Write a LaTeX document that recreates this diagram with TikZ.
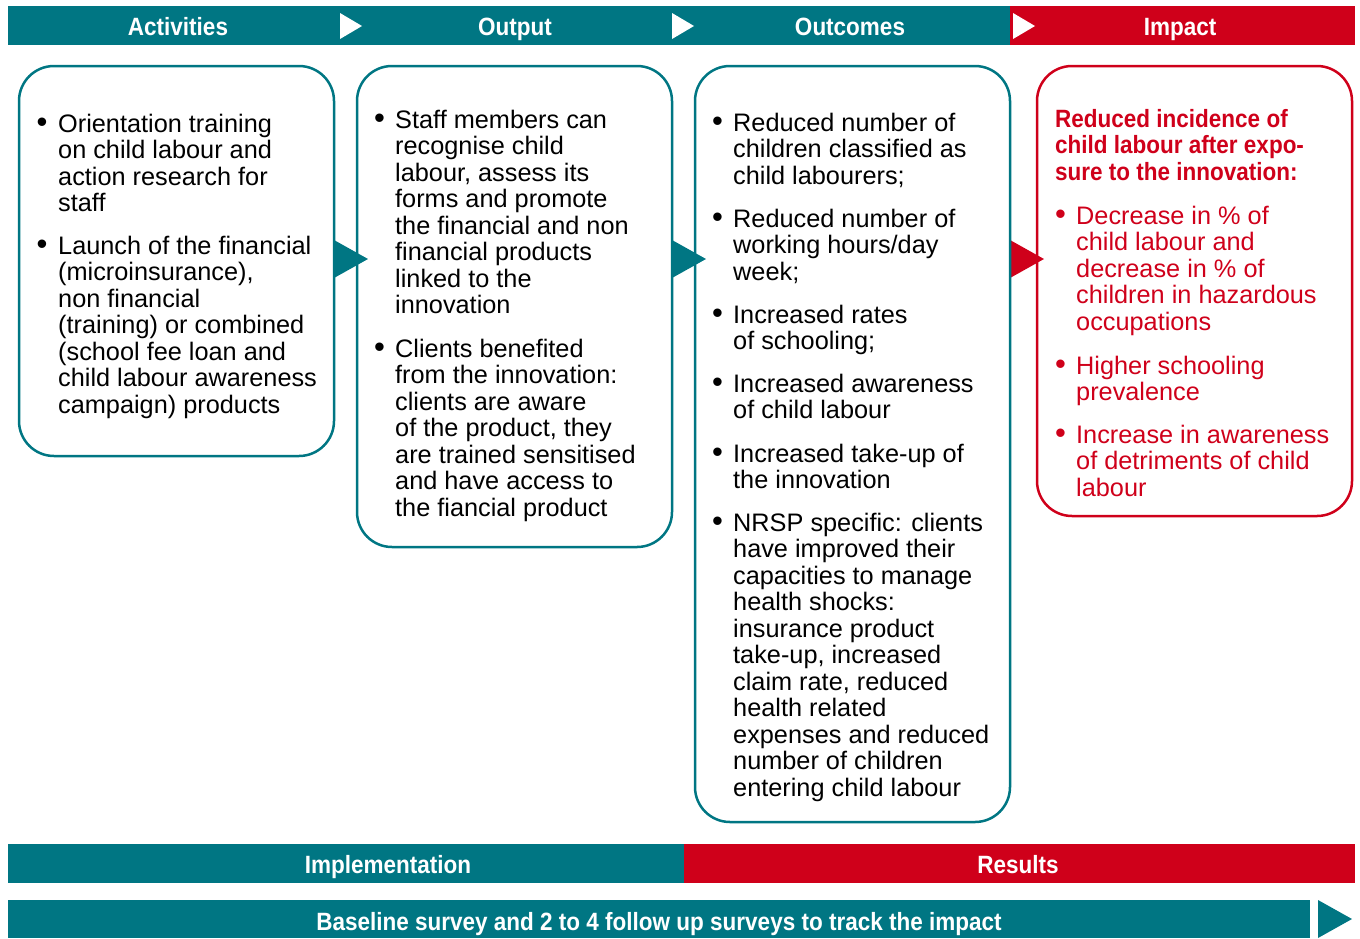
\documentclass[tikz,border=0pt]{standalone}
\usepackage{fontspec}
\setmainfont{Liberation Sans}
\newfontfamily\hdfont{Liberation Sans}[FakeStretch=0.9]
\definecolor{tealc}{RGB}{0,118,131}
\definecolor{redc}{RGB}{207,0,26}
\newcommand{\bodyfont}{\fontsize{25.3}{26.5}\selectfont}
\newcommand{\hdtext}{\hdfont\bfseries\fontsize{25}{27}\selectfont}
\newcommand{\blines}[1]{\parbox[t]{300pt}{\raggedright #1}}
\begin{document}
\begin{tikzpicture}[x=1pt,y=-1pt,
  bar/.style={fill=#1, draw=none, inner sep=0, outer sep=0, anchor=north west},
  box/.style={draw=#1, line width=2.5pt, rounded corners=35pt, inner sep=0, fill=none},
  lbl/.style={text=white, font=\hdtext, anchor=base, inner sep=0},
  item/.style={anchor=base west, inner sep=0, font=\bodyfont},
  bul/.style={anchor=base west, inner sep=0, font=\fontsize{31}{31}\selectfont},
]
\useasboundingbox (0,0) rectangle (1360,938);

% header bar
\node[bar=tealc, minimum width=1002, minimum height=39] (hteal) at (8,6) {};
\node[bar=redc, minimum width=345, minimum height=39] (hred) at (1010,6) {};
\fill[white] (340,13) -- (362,26) -- (340,39) -- cycle;
\fill[white] (672,13) -- (694,26) -- (672,39) -- cycle;
\fill[white] (1013,13) -- (1035,26) -- (1013,39) -- cycle;
\node[lbl] (lAct) at (178,35.5) {Activities};
\node[lbl] (lOut) at (515,35.5) {Output};
\node[lbl] (lOuc) at (850,35.5) {Outcomes};
\node[lbl] (lImp) at (1180,35.5) {Impact};

% arrows between boxes
\fill[tealc] (334,240) -- (368,259) -- (334,278) -- cycle;
\fill[tealc] (672,240) -- (706,259) -- (672,278) -- cycle;
\fill[redc] (1010,240) -- (1044,259) -- (1010,278) -- cycle;

% boxes
\node[box=tealc, minimum width=315, minimum height=390] (b1) at (176.5,261) {};
\node[box=tealc, minimum width=315, minimum height=481] (b2) at (514.5,306.5) {};
\node[box=tealc, minimum width=315, minimum height=756] (b3) at (852.5,444) {};
\node[box=redc, minimum width=315, minimum height=450] (b4) at (1194.5,291) {};

% box 1
\node[bul] (b1d1) at (36.5,132) {•};
\node[item] (b1t1) at (58,132) {\blines{Orientation training\\on child labour and\\action research for\\staff}};
\node[bul] (b1d2) at (36.5,254) {•};
\node[item] (b1t2) at (58,254) {\blines{Launch of the financial\\(microinsurance),\\non financial\\(training) or combined\\(school fee loan and\\child labour awareness\\campaign) products}};

% box 2
\node[bul] (b2d1) at (374,128) {•};
\node[item] (b2t1) at (395,128) {\blines{Staff members can\\recognise child\\labour, assess its\\forms and promote\\the financial and non\\financial products\\linked to the\\innovation}};
\node[bul] (b2d2) at (374,357) {•};
\node[item] (b2t2) at (395,357) {\blines{Clients benefited\\from the innovation:\\clients are aware\\of the product, they\\are trained sensitised\\and have access to\\the fiancial product}};

% box 3
\node[bul] (b3d1) at (712,131) {•};
\node[item] (b3t1) at (733,131) {\blines{Reduced number of\\children classified as\\child labourers;}};
\node[bul] (b3d2) at (712,227) {•};
\node[item] (b3t2) at (733,227) {\blines{Reduced number of\\working hours/day\\week;}};
\node[bul] (b3d3) at (712,323) {•};
\node[item] (b3t3) at (733,323) {\blines{Increased rates\\of schooling;}};
\node[bul] (b3d4) at (712,392) {•};
\node[item] (b3t4) at (733,392) {\blines{Increased awareness\\of child labour}};
\node[bul] (b3d5) at (712,462) {•};
\node[item] (b3t5) at (733,462) {\blines{Increased take-up of\\the innovation}};
\node[bul] (b3d6) at (712,531) {•};
\node[item] (b3t6) at (733,531) {\blines{NRSP specific: clients\\have improved their\\capacities to manage\\health shocks:\\insurance product\\take-up, increased\\claim rate, reduced\\health related\\expenses and reduced\\number of children\\entering child labour}};

% box 4
\node[item, text=redc, font=\hdfont\bfseries\fontsize{25}{26.7}\selectfont] (b4h) at (1055,127) {\blines{Reduced incidence of\\child labour after expo-\\sure to the innovation:}};
\node[bul, text=redc] (b4d1) at (1055,224) {•};
\node[item, text=redc] (b4t1) at (1076,224) {\blines{Decrease in \% of\\child labour and\\decrease in \% of\\children in hazardous\\occupations}};
\node[bul, text=redc] (b4d2) at (1055,374) {•};
\node[item, text=redc] (b4t2) at (1076,374) {\blines{Higher schooling\\prevalence}};
\node[bul, text=redc] (b4d3) at (1055,443) {•};
\node[item, text=redc] (b4t3) at (1076,443) {\blines{Increase in awareness\\of detriments of child\\labour}};

% bottom bars
\node[bar=tealc, minimum width=676, minimum height=39] (bimp) at (8,844) {};
\node[bar=redc, minimum width=671, minimum height=39] (bres) at (684,844) {};
\node[lbl] (lImpl) at (388,873) {Implementation};
\node[lbl] (lRes) at (1018,873) {Results};
\node[bar=tealc, minimum width=1302, minimum height=38] (bbase) at (8,900) {};
\fill[tealc] (1318,900) -- (1352,919) -- (1318,938) -- cycle;
\node[lbl] (lBase) at (659,930) {Baseline survey and 2 to 4 follow up surveys to track the impact};
\end{tikzpicture}
\end{document}
